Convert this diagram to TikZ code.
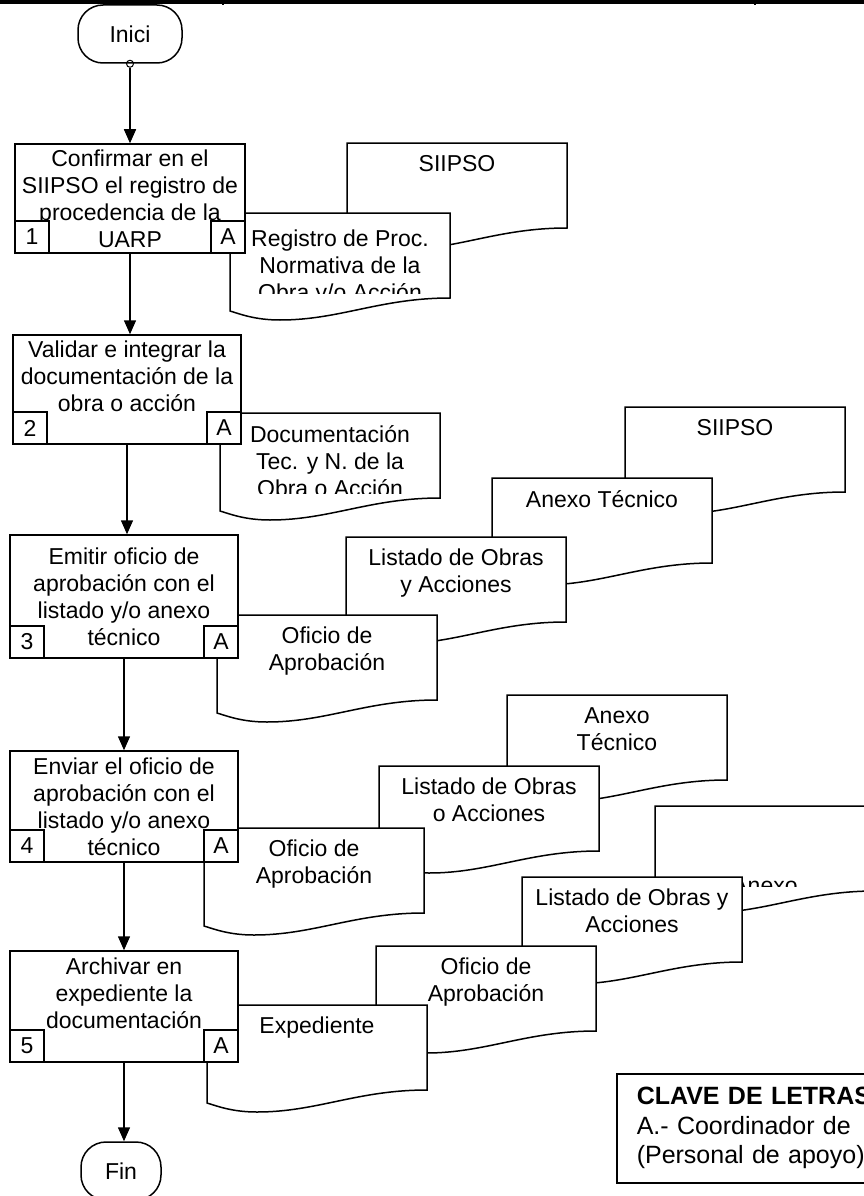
\documentclass[tikz,border=0pt]{standalone}
\usepackage{fontspec}
\setmainfont{Liberation Sans}
\usetikzlibrary{arrows.meta}

\tikzset{
  proc/.style={draw, fill=white, line width=1.5, inner sep=2pt, align=center,
    minimum width=228, minimum height=111},
  sqbox/.style={draw, fill=white, line width=1.5, inner sep=0pt,
    minimum width=34, minimum height=32},
  term/.style={draw, line width=1.5, rounded corners=25pt, inner sep=0pt,
    minimum width=104, minimum height=58},
  docline/.style={draw, fill=white, line width=1.5},
  doctext/.style={anchor=north, align=center, inner sep=0pt},
  flecha/.style={line width=1.5, -{Triangle[length=14pt,width=12pt]}},
}

% documento: [desplazamiento del texto]{nombre}{x}{y}{texto}
\newcommand{\docu}[5][12]{%
  \begin{scope}[shift={(#3,#4)}]
    \path[docline] (0,0) -- (220,0) -- (220,85)
      .. controls (150,85) and (110,107) .. (50,107)
      .. controls (25,107) and (10,101) .. (0,98) -- cycle;
    \begin{scope}
      \clip (0,0) rectangle (220,80);
      \node[doctext] (#2) at (110,#1) {#5};
    \end{scope}
  \end{scope}}

\begin{document}
\begin{tikzpicture}[x=1pt, y=-1pt, font=\fontsize{23}{27}\selectfont]
\useasboundingbox (0,0) rectangle (864,1196);
% encabezado
\draw[line width=3.5] (0,2) -- (864,2);
\draw[line width=1.5] (223,0) -- (223,5) (755,0) -- (755,5);

% documentos
\docu{siipso1}{347}{143}{SIIPSO}
\docu[17]{reg}{230}{213}{Registro de Proc.\\Normativa de la\\Obra y/o Acción}
\docu{docum}{220}{413}{Documentación\\Tec. y N. de la\\Obra o Acción}
\docu{siipso3}{625}{407}{SIIPSO}
\docu{anexo3}{492}{478}{Anexo Técnico}
\docu{listado3}{346}{537}{Listado de Obras\\y Acciones}
\docu{oficio3}{217}{615}{Oficio de\\Aprobación}
\docu{anexo4}{507}{695}{Anexo\\Técnico}
\docu{listado4}{379}{766}{Listado de Obras\\o Acciones}
\docu{oficio4}{204}{828}{Oficio de\\Aprobación}
\docu[71]{anexo5}{655}{806}{Anexo}
\docu{listado5}{522}{877}{Listado de Obras y\\Acciones}
\docu{oficio5}{376}{946}{Oficio de\\Aprobación}
\docu{exped}{207}{1005}{Expediente}

% actividades
\node[term] (inici) at (130,34) {Inici};
\node[circle, draw, line width=1, inner sep=0pt, minimum size=7] (punto) at (inici.south) {};
\node[proc, minimum width=230, minimum height=109] (p1) at (130,198.5)
  {Confirmar en el\\SIIPSO el registro de\\procedencia de la\\UARP};
\node[proc, minimum height=109] (p2) at (127,389.5)
  {Validar e integrar la\\documentación de la\\obra o acción\\\mbox{}};
\node[proc, minimum height=123] (p3) at (124,596.5)
  {Emitir oficio de\\aprobación con el\\listado y/o anexo\\técnico};
\node[proc] (p4) at (124,806.5)
  {Enviar el oficio de\\aprobación con el\\listado y/o anexo\\técnico};
\node[proc] (p5) at (124,1006.5)
  {Archivar en\\expediente la\\documentación\\\mbox{}};
\node[term, minimum width=80] (fin) at (121,1171) {Fin};

\foreach \i in {1,...,5} {
  \node[sqbox, anchor=south west] (n\i) at (p\i.south west) {\i};
  \node[sqbox, anchor=south east] (a\i) at (p\i.south east) {A};
}

% flechas
\draw[flecha] (punto) -- (punto |- p1.north);
\foreach \i/\j in {1/2,2/3,3/4,4/5}
  \draw[flecha] (p\i.south) -- (p\i.south |- p\j.north);
\draw[flecha] (p5.south) -- (p5.south |- fin.north);

% clave
\node[draw, line width=1.5, anchor=north west, align=left, text width=300,
  inner xsep=20, inner ysep=0, minimum height=109,
  font=\fontsize{25}{29.5}\selectfont] (clave) at (616,1073)
  {\textbf{CLAVE DE LETRAS}\\A.- Coordinador de\\(Personal de apoyo)};
\end{tikzpicture}
\end{document}
